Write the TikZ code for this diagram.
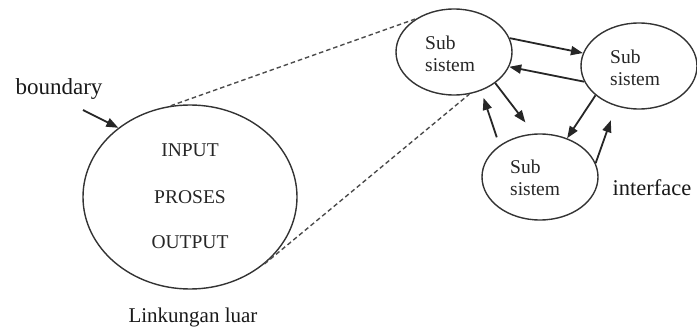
\documentclass[tikz,border=0pt]{standalone}
\usepackage{fontspec}
\setmainfont{Liberation Serif}
\usetikzlibrary{shapes.geometric,arrows.meta}
\begin{document}
\begin{tikzpicture}[x=1pt,y=-1pt,
  sys/.style={ellipse,draw=black!80,line width=1.4pt,inner sep=0pt},
  inner/.style={text=black!85,font=\fontsize{19.5}{22}\selectfont,inner sep=0pt},
  label/.style={text=black!90,inner sep=0pt},
  flow/.style={draw=black!85,line width=1.8pt,-{Triangle[length=12pt,width=9pt]}},
  zoomline/.style={draw=black!70,line width=1.4pt,dash pattern=on 4.5pt off 3pt}]
  \useasboundingbox (0,0) rectangle (697,329);

  % the system and its environment
  \node[sys,minimum width=214pt,minimum height=184pt] (big) at (190,197) {};
  \node[inner,anchor=base] (in)  at (190,157) {INPUT};
  \node[inner,anchor=base] (pro) at (190,203) {PROSES};
  \node[inner,anchor=base] (out) at (190,248) {OUTPUT};
  \node[label,anchor=base,font=\fontsize{23}{26}\selectfont] (bnd) at (59,95) {boundary};
  \node[label,anchor=base,font=\fontsize{21}{24}\selectfont] (env) at (193,322) {Linkungan luar};
  \coordinate (bstart) at (83,110);
  \draw[flow] (bstart) -- (big.136.5);

  % subsystems
  \node[sys,minimum width=116pt,minimum height=86pt] (s1) at (454,52) {};
  \node[sys,minimum width=116pt,minimum height=86pt] (s2) at (639,66) {};
  \node[sys,minimum width=116pt,minimum height=86pt] (s3) at (540,177) {};
  \node[inner,align=left,anchor=west] (t1) at (425,54) {Sub\\sistem};
  \node[inner,align=left,anchor=west] (t2) at (610,68) {Sub\\sistem};
  \node[inner,align=left,anchor=west] (t3) at (510,178) {Sub\\sistem};
  \node[label,anchor=base,font=\fontsize{22.5}{25}\selectfont] (itf) at (652,195) {interface};

  % zoom lines from the system to its subsystems
  \draw[zoomline] (big.102.7) -- (s1.139);
  \draw[zoomline] (big.318) -- (s1.290);

  % flows between subsystems
  \draw[flow] (s1.14) -- (s2.167);
  \draw[flow] (s2.196) -- (s1.345);
  \draw[flow,shorten >=14pt] (s1.-37) -- (s3.98);
  \draw[flow,shorten <=8.5pt,shorten >=7.5pt] (s3.142.5) -- (s1.305);
  \draw[flow] (s2.214.6) -- (s3.55);
  \draw[flow,shorten >=15pt] (s3.14) -- (s2.240);
\end{tikzpicture}
\end{document}
